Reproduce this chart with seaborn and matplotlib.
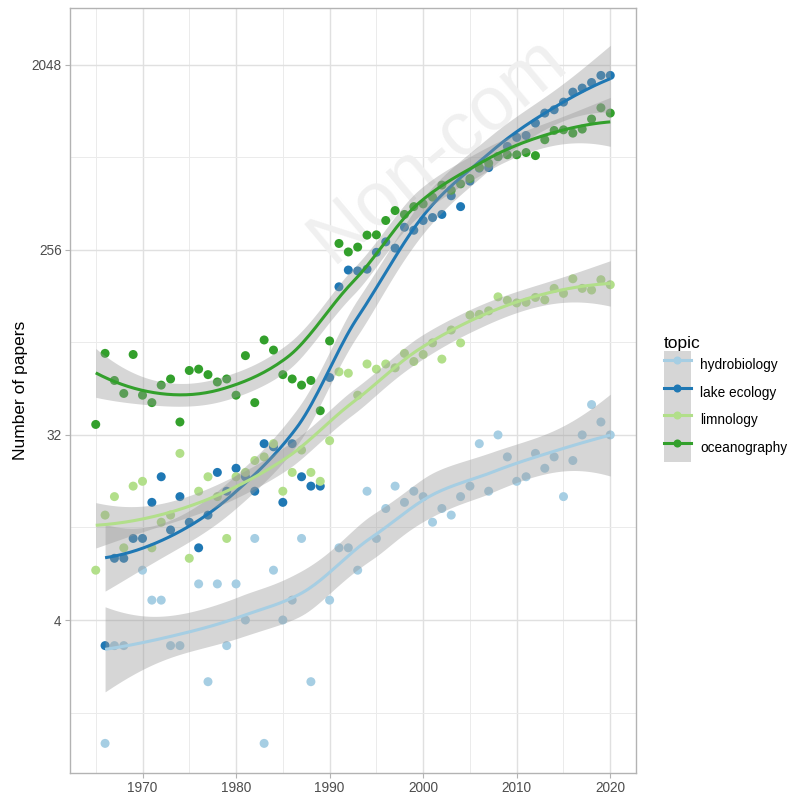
import numpy as np
import pandas as pd
import matplotlib
matplotlib.use("Agg")
import matplotlib.pyplot as plt
from matplotlib.lines import Line2D
from matplotlib.patches import Patch
from matplotlib.legend_handler import HandlerTuple
from matplotlib.ticker import NullFormatter
import seaborn as sns

# Yearly paper counts per topic (None = no papers that year)
years = list(range(1965, 2021))

hydrobiology = [None, 1, 3, 3, None, 7, 5, 5, 3, 3,
                None, 6, 2, 6, 3, 6, 4, 10, 1, 7,
                4, 5, 10, 2, None, 5, 9, 9, 7, 17,
                10, 14, 18, 15, 17, 16, 12, 14, 13, 16,
                18, 29, 17, 32, 25, 19, 20, 26, 22, 25,
                16, 24, 32, 45, 37, 32]

lake_ecology = [None, 3, 8, 8, 10, 10, 15, 20, 11, 16,
                12, 9, 13, 21, 17, 22, 20, 17, 29, 28,
                15, 29, 20, 18, 18, 61, 169, 204, 202, 206,
                249, 280, 261, 330, 319, 356, 368, 381, 470, 416,
                554, 641, 645, 730, 818, 905, 925, 1063, 1190, 1235,
                1346, 1506, 1576, 1678, 1817, 1817]

limnology = [7, 13, 16, 9, 18, 19, 9, 12, 13, 26,
             8, 17, 20, 16, 10, 20, 21, 24, 25, 29,
             17, 21, 27, 21, 19, 30, 65, 64, 50, 71,
             67, 71, 68, 80, 73, 79, 90, 75, 104, 90,
             123, 124, 129, 151, 145, 141, 142, 150, 146, 166,
             157, 185, 166, 163, 183, 173]

oceanography = [36, 80, 59, 51, 79, 50, 46, 56, 60, 37,
                66, 67, 63, 58, 60, 50, 78, 46, 93, 83,
                63, 60, 56, 59, 42, 92, 275, 250, 264, 302,
                303, 356, 398, 381, 416, 429, 463, 530, 500, 537,
                570, 646, 678, 731, 745, 745, 764, 738, 882, 979,
                986, 950, 994, 1113, 1263, 1190]

topics = ["hydrobiology", "lake ecology", "limnology", "oceanography"]
colors = ["#a6cee3", "#1f78b4", "#b2df8a", "#33a02c"]

rows = []
for topic, counts in zip(topics, [hydrobiology, lake_ecology, limnology, oceanography]):
    for yr, c in zip(years, counts):
        if c is not None:
            rows.append({"year": yr, "papers": c, "topic": topic})
df = pd.DataFrame(rows)


def loess(x, y, xnew, span=0.75, cell=0.2):
    # loess (degree 2, tricube) with kd-tree vertices + cubic Hermite
    # interpolation, like R's default surface = "interpolate"
    n = len(x)
    q = int(np.floor(n * span))

    def local_rows(x0):
        d = np.abs(x - x0)
        ds = np.sort(d)
        h = (ds[q - 1] + ds[q]) / 2 if q < n else ds[-1]
        w = np.clip(1 - (d / h) ** 3, 0, None) ** 3
        X = np.column_stack([np.ones(n), x - x0, (x - x0) ** 2])
        XtW = X.T * w
        A = np.linalg.solve(XtW @ X, XtW)
        return A[0], A[1]

    # kd-tree vertices
    fc = int(np.floor(n * span * cell))
    mu = 0.005 * (x.max() - x.min())
    verts = {x.min() - mu, x.max() + mu}

    def split(pts):
        if len(pts) <= fc:
            return
        pts = np.sort(pts)
        m = len(pts)
        v = pts[m // 2] if m % 2 else (pts[m // 2 - 1] + pts[m // 2]) / 2
        verts.add(v)
        split(pts[pts <= v])
        split(pts[pts > v])

    split(x)
    V = np.array(sorted(verts))
    LV, DV = zip(*[local_rows(v) for v in V])
    LV, DV = np.array(LV), np.array(DV)

    def operator(pts):
        out = []
        for p in pts:
            i = min(max(np.searchsorted(V, p) - 1, 0), len(V) - 2)
            hgt = V[i + 1] - V[i]
            t = (p - V[i]) / hgt
            h00 = 2 * t ** 3 - 3 * t ** 2 + 1
            h10 = t ** 3 - 2 * t ** 2 + t
            h01 = -2 * t ** 3 + 3 * t ** 2
            h11 = t ** 3 - t ** 2
            out.append(h00 * LV[i] + h10 * hgt * DV[i] + h01 * LV[i + 1] + h11 * hgt * DV[i + 1])
        return np.array(out)

    L = operator(x)
    Lnew = operator(xnew)
    M = np.eye(n) - L
    MM = M.T @ M
    d1 = np.trace(MM)
    d2 = np.trace(MM @ MM)
    s = np.sqrt(np.sum((M @ y) ** 2) / d1)
    fit = Lnew @ y
    se = s * np.sqrt(np.sum(Lnew ** 2, axis=1))
    dof = d1 ** 2 / d2
    z = 1.959964
    t = z + (z ** 3 + z) / (4 * dof) + (5 * z ** 5 + 16 * z ** 3 + 3 * z) / (96 * dof ** 2)
    return fit, fit - t * se, fit + t * se


plt.rcParams["font.family"] = ["Liberation Sans", "DejaVu Sans"]

fig, ax = plt.subplots(figsize=(7.9, 7.97), dpi=100)
fig.subplots_adjust(left=70 / 790, right=636 / 790, top=1 - 8 / 797, bottom=1 - 773 / 797)

# watermark
ax.text(332 / 790, 1 - 264 / 797, "Non-com", transform=fig.transFigure,
        fontsize=55, color="#f0f0f0", rotation=40, rotation_mode="anchor",
        ha="left", va="baseline", zorder=0.6)

sns.scatterplot(data=df, x="year", y="papers", hue="topic", hue_order=topics,
                palette=colors, s=42, linewidth=0, legend=False, ax=ax, zorder=2)

for i, (topic, color) in enumerate(zip(topics, colors)):
    sub = df[df["topic"] == topic]
    x = sub["year"].values.astype(float)
    y = np.log2(sub["papers"].values.astype(float))
    xs = np.linspace(x.min(), x.max(), 160)
    fit, lo, hi = loess(x, y, xs)
    ax.fill_between(xs, 2 ** lo, 2 ** hi, color="#999999", alpha=0.4,
                    linewidth=0, zorder=3 + 2 * i)
    ax.plot(xs, 2 ** fit, color=color, lw=2.2, zorder=4 + 2 * i,
            solid_capstyle="butt")

ax.set_yscale("log", base=2)
ax.set_ylim(2 ** -0.48, 2 ** 11.92)
ax.set_xlim(1962.25, 2022.75)
ax.set_yticks([4, 32, 256, 2048], labels=["4", "32", "256", "2048"])
ax.set_yticks(2 ** np.array([0.5, 3.5, 6.5, 9.5]), minor=True)
ax.yaxis.set_minor_formatter(NullFormatter())
ax.set_xticks(range(1970, 2021, 10))
ax.set_xticks(range(1965, 2020, 10), minor=True)

ax.grid(which="major", color="#e0e0e0", lw=1.0, zorder=0)
ax.grid(which="minor", color="#ebebeb", lw=0.7, zorder=0)
ax.set_axisbelow(True)
for sp in ax.spines.values():
    sp.set_color("#b3b3b3")
    sp.set_linewidth(1.0)
ax.tick_params(which="major", length=3.5, width=0.8, color="#b3b3b3",
               labelcolor="#4d4d4d", labelsize=9.8, pad=2.5)
ax.tick_params(which="minor", length=0)

ax.set_xlabel("")
ax.set_ylabel("Number of papers", fontsize=12.5, color="black")
ax.yaxis.set_label_coords((28 - 70) / 566, 0.5)

handles = [(Patch(facecolor="#999999", alpha=0.4, edgecolor="none"),
            Line2D([], [], color=c, lw=2.2, marker="o", markersize=5.8,
                   markeredgewidth=0))
           for c in colors]
fig.legend(handles, topics, handler_map={tuple: HandlerTuple(ndivide=1, pad=0)},
           loc="upper left", bbox_to_anchor=(664 / 790, 1 - 336 / 797),
           frameon=False, title="topic", fontsize=9.8, title_fontsize=12.5,
           handlelength=1.98, handleheight=2.75, labelspacing=0,
           handletextpad=0.66, borderpad=0, borderaxespad=0, alignment="left")

fig.savefig("out.png", dpi=100)
